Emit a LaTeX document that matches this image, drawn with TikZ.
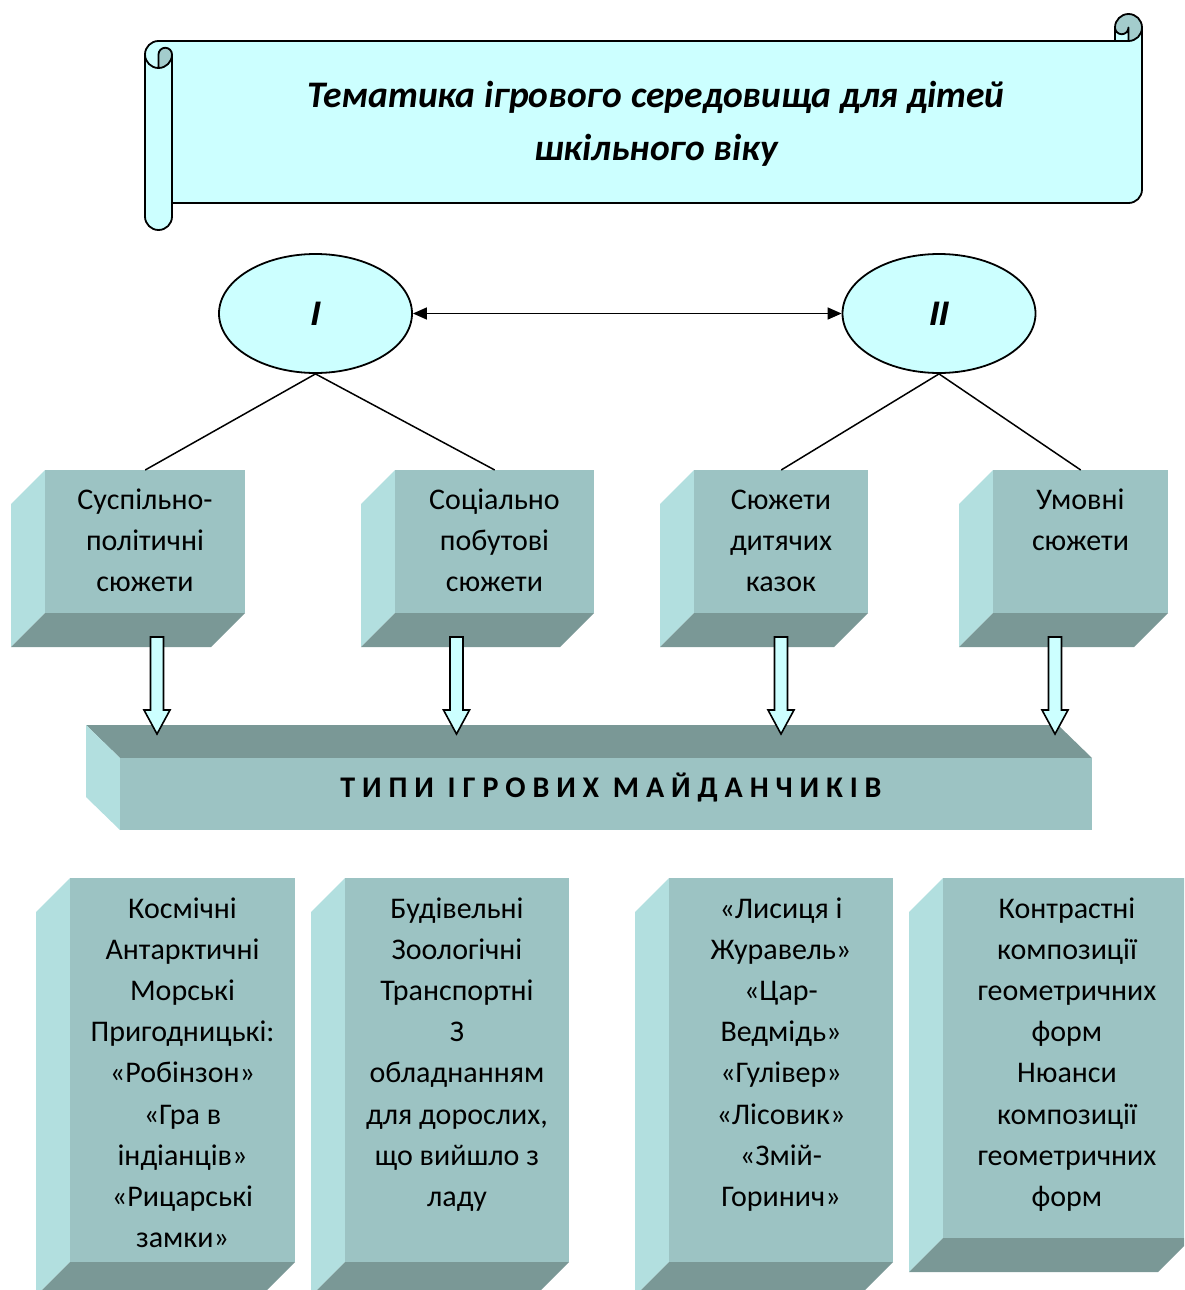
\documentclass[tikz,border=0pt]{standalone}
\usepackage{fontspec}
\setmainfont{Carlito}
\newfontfamily\arialf{Liberation Sans}
\newfontfamily\spacedf[LetterSpace=23]{Carlito}
\usetikzlibrary{arrows.meta,shapes.geometric}
\definecolor{cyanl}{HTML}{CCFFFF}
\definecolor{cyand}{HTML}{A3CCCC}
\definecolor{frontc}{HTML}{9CC3C3}
\definecolor{sidec}{HTML}{B2DFDF}
\definecolor{darkc}{HTML}{7A9896}
\newcommand\cubeLD[6]{%
  \fill[sidec] (#2,#3) -- (#2-#6,#3+#6) -- (#2-#6,#5+#6) -- (#2,#5) -- cycle;
  \fill[darkc] (#2,#5) -- (#4,#5) -- (#4-#6,#5+#6) -- (#2-#6,#5+#6) -- cycle;
  \node[frontface, minimum width={#4-#2}, minimum height={#5-#3}] (#1) at (#2,#3) {};
}
\begin{document}
\begin{tikzpicture}[x=1pt,y=-1pt,
  frontface/.style={fill=frontc, draw=none, inner sep=0, anchor=north west},
  bodytxt/.style={font=\fontsize{30}{41.2}\selectfont, align=center, inner sep=0, anchor=north},
  conn/.style={draw=black, line width=1.5},
  scrollline/.style={draw=black, line width=1.8, line join=round},
  bubble/.style={ellipse, draw=black, line width=1.8, fill=cyanl, minimum width=193, minimum height=119, inner sep=0,
     font=\arialf\bfseries\itshape\fontsize{34}{40}\selectfont},
  blockst/.style={draw=black, fill=cyanl, line width=1.6, line join=miter},
  barrow/.pic={\path[blockst] (-6.5,0) -- (6.5,0) -- (6.5,73) -- (13,73) -- (0,97) -- (-13,73) -- (-6.5,73) -- cycle;}
]
\useasboundingbox (0,0) rectangle (1184,1290);
\clip (0,0) rectangle (1184,1290);

% ---------- scroll banner ----------
\fill[cyanl] (1142,27.5) arc[start angle=0,end angle=90,radius=13.5] -- (1128.5,27.5)
  arc[start angle=0,end angle=180,radius=6.75] -- (1115,41) -- (158.5,41)
  arc[start angle=270,end angle=180,radius=13.5] -- (145,216.5)
  arc[start angle=180,end angle=0,radius=13.5] -- (172,203) -- (1128.5,203)
  arc[start angle=90,end angle=0,radius=13.5] -- cycle;
\fill[cyand] (158.5,68) arc[start angle=90,end angle=0,radius=13.5]
  arc[start angle=0,end angle=-180,radius=6.75] -- cycle;
\fill[cyand] (1128.5,41) arc[start angle=90,end angle=-180,radius=13.5]
  arc[start angle=180,end angle=0,radius=6.75] -- cycle;
\draw[scrollline] (145,54.5) arc[start angle=180,end angle=270,radius=13.5] -- (1115,41) -- (1115,27.5)
  arc[start angle=180,end angle=360,radius=13.5] -- (1142,189.5)
  arc[start angle=0,end angle=90,radius=13.5] -- (172,203) -- (172,216.5)
  arc[start angle=0,end angle=180,radius=13.5] -- cycle;
\draw[scrollline] (1115,41) -- (1128.5,41) arc[start angle=90,end angle=0,radius=13.5];
\draw[scrollline] (1128.5,41) -- (1128.5,27.5) arc[start angle=0,end angle=180,radius=6.75];
\draw[scrollline] (158.5,68) -- (158.5,54.5) arc[start angle=180,end angle=360,radius=6.75]
  arc[start angle=0,end angle=180,radius=13.5];
\draw[scrollline] (172,54.5) -- (172,203);
\node[font=\fontsize{37.5}{53}\selectfont\bfseries\itshape, align=center, inner sep=0, anchor=north] (title)
  at (656,70) {\strut Тематика ігрового середовища для дітей\\шкільного віку};

% ---------- ellipses ----------
\node[bubble] (e1) at (315.5,313.5) {I};
\node[bubble] (e2) at (939,313.5) {II};
\draw[conn, {Triangle[length=14pt,width=12pt]}-{Triangle[length=14pt,width=12pt]}] (e1.east) -- (e2.west);

% ---------- top cubes ----------
\cubeLD{b1}{45}{470}{245}{613}{34}
\cubeLD{b2}{395}{470}{594}{613}{34}
\cubeLD{b3}{694}{470}{868}{613}{34}
\cubeLD{b4}{993}{470}{1168}{613}{34}
\node[bodytxt] (b1t) at (145,480) {\strut Суспільно-\\політичні\\сюжети};
\node[bodytxt] (b2t) at (494.5,480) {\strut Соціально\\побутові\\сюжети};
\node[bodytxt] (b3t) at (781,480) {\strut Сюжети\\дитячих\\казок};
\node[bodytxt] (b4t) at (1080.5,480) {\strut Умовні\\сюжети};

\draw[conn] (e1.south) -- (b1.north);
\draw[conn] (e1.south) -- (b2.north);
\draw[conn] (e2.south) -- (b3.north);
\draw[conn] (e2.south) -- (b4.north);

% ---------- bar ----------
\fill[darkc] (86,725) -- (1058,725) -- (1092,758) -- (120,758) -- cycle;
\fill[sidec] (86,725) -- (120,758) -- (120,830) -- (86,797) -- cycle;
\node[frontface, minimum width=972, minimum height=72] (bar) at (120,758) {};
\node[font=\fontsize{30}{35}\selectfont\spacedf\bfseries, anchor=base, inner sep=0] (bart) at (611,797) {ТИПИ ІГРОВИХ МАЙДАНЧИКІВ};

% ---------- block arrows ----------
\coordinate (a1) at (157,637);
\coordinate (a2) at (456.5,637);
\coordinate (a3) at (781,637);
\coordinate (a4) at (1055,637);
\pic at (a1) {barrow};
\pic at (a2) {barrow};
\pic at (a3) {barrow};
\pic at (a4) {barrow};

% ---------- bottom cubes ----------
\cubeLD{c1}{70}{878}{295}{1262}{34}
\cubeLD{c2}{345}{878}{569}{1262}{34}
\cubeLD{c3}{669}{878}{893}{1262}{34}
\cubeLD{c4}{943}{878}{1192}{1238}{34}
\node[bodytxt] (c1t) at (182.5,889) {\strut Космічні\\Антарктичні\\Морські\\Пригодницькі:\\«Робінзон»\\«Гра в\\індіанців»\\«Рицарські\\замки»};
\node[bodytxt] (c2t) at (457,889) {\strut Будівельні\\Зоологічні\\Транспортні\\З\\обладнанням\\для дорослих,\\що вийшло з\\ладу};
\node[bodytxt] (c3t) at (781,889) {\strut «Лисиця і\\Журавель»\\«Цар-\\Ведмідь»\\«Гулівер»\\«Лісовик»\\«Змій-\\Горинич»};
\node[bodytxt] (c4t) at (1067,889) {\strut Контрастні\\композиції\\геометричних\\форм\\Нюанси\\композиції\\геометричних\\форм};
\end{tikzpicture}
\end{document}
